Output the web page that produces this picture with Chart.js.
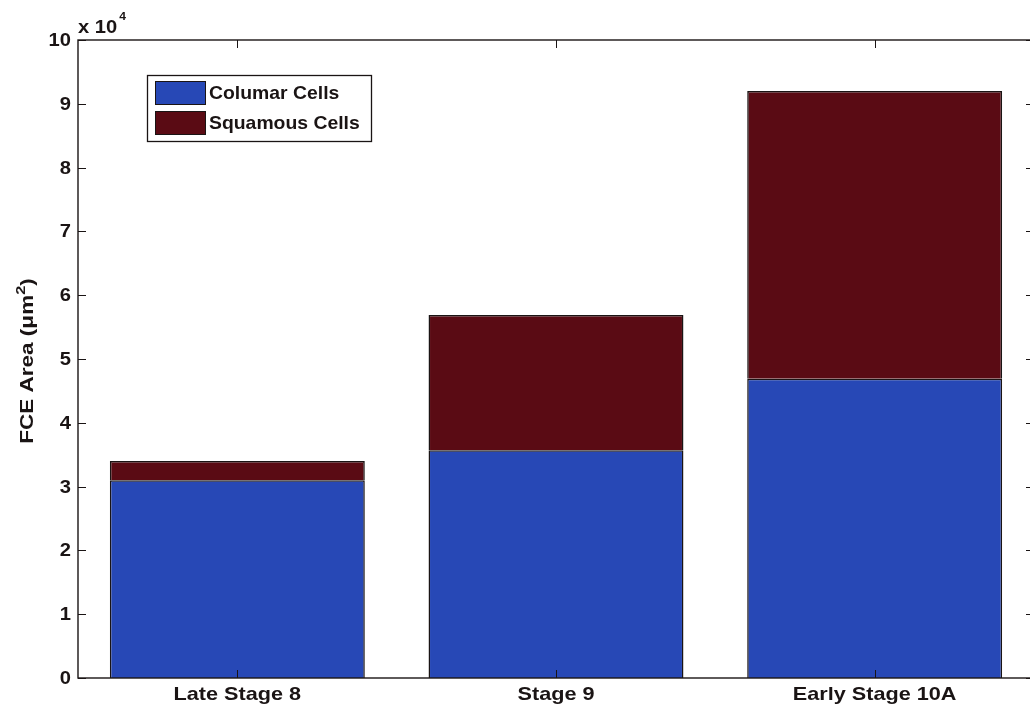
<!DOCTYPE html>
<html>
<head>
<meta charset="utf-8">
<script src="https://cdn.jsdelivr.net/npm/chart.js@4.4.1/dist/chart.umd.min.js"></script>
<style>
  html, body { margin: 0; padding: 0; background: #ffffff; overflow: hidden; }
  #wrap { position: relative; width: 1040px; height: 709px; }
</style>
</head>
<body>
<div id="wrap"><canvas id="c" width="1040" height="709"></canvas></div>
<script>
// Follicle cell epithelium area per developmental stage (µm²)
const categories = ['Late Stage 8', 'Stage 9', 'Early Stage 10A'];
const columnarArea = [31000, 35700, 46900];
const squamousArea = [3000, 21200, 45100];
const seriesNames = ['Columar Cells', 'Squamous Cells'];
const yTicks = [0, 10000, 20000, 30000, 40000, 50000, 60000, 70000, 80000, 90000, 100000];

const BLUE = '#2748b6';
const MAROON = '#5a0b14';
const INK = '#1a1414';
const FONT = '"Liberation Sans", Arial, sans-serif';

// draws a string with a horizontal stretch (wide Helvetica look)
function wideText(ctx, str, x, y, size, stretch, align) {
  ctx.save();
  ctx.font = 'bold ' + size + 'px ' + FONT;
  const w = ctx.measureText(str).width * stretch;
  let sx = x;
  if (align === 'center') sx = x - w / 2;
  else if (align === 'right') sx = x - w;
  ctx.translate(sx, y);
  ctx.scale(stretch, 1);
  ctx.textAlign = 'left';
  ctx.fillText(str, 0, 0);
  ctx.restore();
  return w;
}

// Axes box, inward tick marks, tick labels, exponent note, y title and in-plot legend
const matlabAxes = {
  id: 'matlabAxes',
  afterDatasetsDraw(chart) {
    const { ctx, chartArea: a, scales } = chart;
    const y = scales.y, x = scales.x;
    ctx.save();
    ctx.strokeStyle = INK;
    ctx.lineWidth = 1.4;
    ctx.strokeRect(a.left, a.top, a.right - a.left, a.bottom - a.top);
    ctx.lineWidth = 1;
    yTicks.forEach(v => {
      const py = Math.round(y.getPixelForValue(v)) + 0.5;
      ctx.beginPath();
      ctx.moveTo(a.left, py); ctx.lineTo(a.left + 8, py);
      ctx.moveTo(a.right, py); ctx.lineTo(a.right - 8, py);
      ctx.stroke();
    });
    categories.forEach((c, i) => {
      const px = Math.round(x.getPixelForValue(i)) + 0.5;
      ctx.beginPath();
      ctx.moveTo(px, a.top); ctx.lineTo(px, a.top + 8);
      ctx.moveTo(px, a.bottom); ctx.lineTo(px, a.bottom - 8);
      ctx.stroke();
    });
    ctx.restore();
  },
  afterDraw(chart) {
    const { ctx, chartArea: a, scales } = chart;
    const y = scales.y, x = scales.x;
    ctx.save();
    ctx.fillStyle = INK;
    ctx.textBaseline = 'middle';

    // tick labels
    yTicks.forEach(v => {
      wideText(ctx, String(v / 10000), 71, y.getPixelForValue(v) + 1, 18, 1.12, 'right');
    });
    categories.forEach((c, i) => {
      wideText(ctx, c, x.getPixelForValue(i), a.bottom + 17, 18.5, 1.17, 'center');
    });

    // exponent note
    ctx.textBaseline = 'alphabetic';
    const w = wideText(ctx, 'x 10', a.left, a.top - 7, 18, 1.12, 'left');
    wideText(ctx, '4', a.left + w + 2, a.top - 20, 11, 1.1, 'left');

    // y axis title with superscript
    ctx.save();
    ctx.translate(33, (a.top + a.bottom) / 2 + 2);
    ctx.rotate(-Math.PI / 2);
    const st = 1.25;
    ctx.font = 'bold 18px ' + FONT;
    const w1 = ctx.measureText('FCE Area (\u03bcm').width * st;
    const w3 = ctx.measureText(')').width * st;
    ctx.font = 'bold 13px ' + FONT;
    const w2 = ctx.measureText('2').width * st;
    const sx = -(w1 + w2 + w3) / 2;
    wideText(ctx, 'FCE Area (\u03bcm', sx, 0, 18, st, 'left');
    wideText(ctx, '2', sx + w1, -8, 13, st, 'left');
    wideText(ctx, ')', sx + w1 + w2, 0, 18, st, 'left');
    ctx.restore();
    ctx.restore();

    // legend inside the plot
    ctx.save();
    const lx = 147, ly = 75, lw = 224, lh = 66;
    ctx.fillStyle = '#ffffff';
    ctx.fillRect(lx, ly, lw, lh);
    ctx.strokeStyle = INK;
    ctx.lineWidth = 1.3;
    ctx.strokeRect(lx + 0.5, ly + 0.5, lw, lh);
    chart.data.datasets.forEach((ds, i) => {
      const ry = ly + 6 + i * 30;
      ctx.fillStyle = ds.backgroundColor;
      ctx.fillRect(lx + 8, ry, 50, 23);
      ctx.strokeStyle = INK;
      ctx.lineWidth = 1;
      ctx.strokeRect(lx + 8.5, ry + 0.5, 50, 23);
      ctx.fillStyle = INK;
      ctx.textBaseline = 'middle';
      wideText(ctx, ds.label, lx + 62, ry + 13, 19, 1.02, 'left');
    });
    ctx.restore();
  }
};

new Chart(document.getElementById('c'), {
  type: 'bar',
  data: {
    labels: categories,
    datasets: [
      { label: seriesNames[0], data: columnarArea, backgroundColor: BLUE, borderColor: INK, borderWidth: 1.5 },
      { label: seriesNames[1], data: squamousArea, backgroundColor: MAROON, borderColor: INK, borderWidth: 1.5 }
    ]
  },
  options: {
    responsive: false,
    animation: false,
    devicePixelRatio: 1,
    layout: { padding: { top: 40, right: 6, left: 0, bottom: 0 } },
    datasets: { bar: { barPercentage: 0.8, categoryPercentage: 1.0 } },
    plugins: { legend: { display: false }, tooltip: { enabled: false } },
    scales: {
      x: {
        stacked: true,
        grid: { display: false, drawTicks: false },
        border: { display: false },
        ticks: { display: false },
        afterFit(s) { s.height = 31; }
      },
      y: {
        stacked: true,
        min: 0, max: 100000,
        grid: { display: false, drawTicks: false },
        border: { display: false },
        afterBuildTicks(s) { s.ticks = yTicks.map(v => ({ value: v })); },
        ticks: { display: false },
        afterFit(s) { s.width = 78; }
      }
    }
  },
  plugins: [matlabAxes]
});
</script>
</body>
</html>
